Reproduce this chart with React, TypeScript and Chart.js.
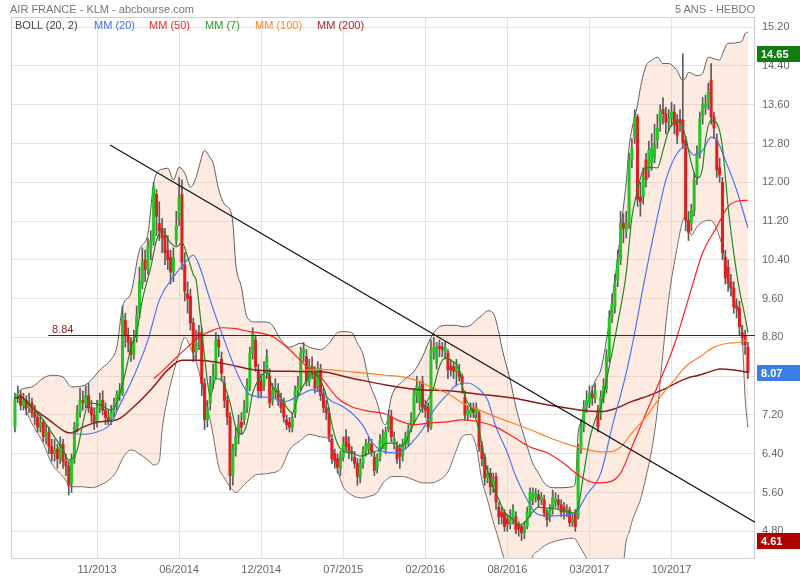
import React, { useEffect, useRef } from 'react';
import { Chart, registerables } from 'chart.js';

Chart.register(...registerables);

// ---------- weekly candles (week index 0..259) ----------
const opens = [
  6.95,7.55,7.62,7.40,7.50,7.35,7.45,7.25,7.15,6.95,
  7.05,6.75,6.85,6.55,6.40,6.50,6.30,6.60,6.25,6.15,
  5.80,6.30,6.95,7.25,7.50,7.45,7.60,7.35,7.20,7.05,
  7.35,7.50,7.30,7.15,7.10,7.25,7.40,7.62,7.65,9.15,
  8.85,8.70,8.45,8.80,9.30,9.90,10.40,10.20,10.65,10.80,
  11.75,11.15,11.05,10.90,10.60,10.45,10.15,10.80,11.25,11.75,
  10.30,9.70,9.65,9.10,8.50,8.90,8.90,7.85,7.10,7.45,
  7.85,8.00,8.75,8.35,7.86,7.50,7.16,5.95,6.48,6.75,
  7.05,7.10,7.36,7.78,8.48,8.75,8.13,7.90,7.80,8.06,
  8.00,7.50,7.70,7.70,7.50,7.45,7.10,7.05,6.95,7.24,
  7.70,7.78,8.48,8.40,7.90,8.20,8.10,7.80,8.15,7.65,
  7.35,7.24,6.70,6.40,6.30,6.10,6.33,6.75,6.60,6.45,
  6.33,6.20,5.90,6.20,6.45,6.50,6.60,6.33,6.10,6.33,
  6.60,6.50,6.90,7.16,6.60,6.55,6.50,6.35,6.60,6.62,
  6.95,7.10,7.60,7.45,7.88,7.40,7.36,6.95,8.50,8.27,
  8.62,8.60,8.50,8.48,8.20,8.20,8.10,8.10,8.00,7.57,
  7.20,7.25,7.35,7.25,7.24,6.55,6.33,5.90,6.00,5.72,
  5.93,5.30,5.20,5.18,5.05,4.95,5.04,5.10,4.95,4.90,
  4.77,4.90,5.18,5.45,5.50,5.55,5.45,5.45,5.18,5.10,
  5.25,5.40,5.45,5.35,5.30,5.20,5.24,4.98,5.18,5.10,
  6.48,6.95,7.36,7.45,7.65,7.55,7.30,7.25,7.57,7.75,
  8.40,9.22,9.43,9.98,10.40,11.16,11.00,11.16,12.46,12.93,
  13.35,11.70,11.70,12.46,12.25,12.40,12.50,12.87,13.22,13.50,
  13.42,13.24,13.32,13.45,13.28,13.30,13.28,12.87,11.22,11.16,
  11.42,12.10,12.60,13.35,13.55,13.65,14.10,13.35,12.87,12.30,
  12.00,10.45,10.25,9.94,9.82,9.45,9.41,8.90,8.85,8.60,
];
const closes = [
  7.55,7.62,7.40,7.50,7.35,7.45,7.25,7.15,6.95,7.05,
  6.75,6.85,6.55,6.40,6.50,6.30,6.60,6.25,6.15,5.75,
  6.30,6.95,7.25,7.50,7.45,7.60,7.35,7.20,7.05,7.35,
  7.50,7.30,7.15,7.10,7.25,7.40,7.62,7.70,9.25,8.85,
  8.70,8.45,8.75,9.25,9.95,10.35,10.20,10.70,10.80,11.90,
  11.30,11.00,10.85,10.55,10.40,10.15,10.45,11.10,11.70,10.35,
  9.75,9.60,9.10,8.50,8.70,8.80,7.85,7.10,7.35,7.85,
  8.00,8.75,8.60,8.06,7.50,7.16,5.95,6.50,6.75,7.00,
  6.95,7.36,7.80,8.48,8.90,8.20,7.70,7.70,8.00,8.40,
  7.45,7.70,7.75,7.50,7.35,7.16,7.00,6.95,7.15,7.70,
  7.80,8.48,8.55,7.90,8.20,8.10,7.75,8.15,7.60,7.35,
  7.25,6.75,6.30,6.25,6.13,6.35,6.60,6.55,6.45,6.40,
  6.20,5.93,6.20,6.45,6.60,6.62,6.45,6.06,6.30,6.68,
  6.75,6.85,7.16,6.75,6.70,6.30,6.35,6.60,6.75,6.90,
  7.10,7.65,7.80,7.78,7.36,7.30,6.95,8.55,8.60,8.60,
  8.57,8.55,8.60,8.13,8.13,8.10,8.20,8.00,7.83,7.20,
  7.30,7.30,7.25,7.35,6.55,6.30,5.90,6.00,5.72,5.85,
  5.40,5.10,5.10,4.90,4.95,5.10,5.24,4.83,4.85,4.77,
  4.90,5.20,5.60,5.60,5.58,5.45,5.50,5.18,5.04,5.25,
  5.50,5.45,5.35,5.20,5.20,5.25,4.98,5.05,4.90,6.48,
  6.95,7.36,7.50,7.65,7.55,7.70,6.95,7.57,7.80,8.40,
  9.20,9.50,9.92,10.40,11.16,11.05,11.15,12.46,12.70,13.35,
  11.65,11.60,12.10,12.05,12.66,12.70,12.80,13.12,13.49,13.42,
  13.24,13.32,13.45,13.18,12.97,13.25,12.81,11.22,10.97,11.42,
  12.05,12.60,13.32,13.60,13.62,13.86,13.35,13.12,12.25,12.15,
  10.55,10.03,9.92,9.82,9.43,9.40,9.02,8.80,8.65,8.07,
];
const highs = [
  7.65,7.80,7.70,7.65,7.60,7.65,7.55,7.40,7.25,7.20,
  7.10,7.00,6.95,6.70,6.70,6.60,6.75,6.70,6.40,6.25,
  6.40,7.05,7.40,7.75,7.70,7.80,7.85,7.50,7.35,7.50,
  7.65,7.70,7.45,7.30,7.40,7.55,7.70,7.85,9.45,9.30,
  9.00,8.80,8.95,9.45,10.25,10.65,10.60,10.85,11.00,12.00,
  11.85,11.60,11.25,11.05,10.90,10.60,10.65,11.40,12.10,12.05,
  10.55,9.95,9.80,9.20,8.95,9.05,9.00,7.95,7.50,8.00,
  8.25,8.90,8.85,8.50,8.00,7.60,7.25,6.60,6.95,7.20,
  7.25,7.50,7.95,8.60,9.00,8.85,8.25,8.05,8.30,8.55,
  8.15,7.85,7.95,7.85,7.65,7.55,7.20,7.15,7.25,7.80,
  8.00,8.60,8.70,8.55,8.35,8.40,8.20,8.30,8.25,7.75,
  7.50,7.35,6.80,6.50,6.40,6.45,6.75,6.90,6.75,6.55,
  6.45,6.30,6.30,6.55,6.70,6.75,6.70,6.45,6.40,6.80,
  6.90,6.95,7.30,7.30,6.85,6.65,6.60,6.70,6.85,7.00,
  7.25,7.75,8.00,7.90,8.00,7.50,7.45,8.75,8.80,8.70,
  8.75,8.70,8.70,8.55,8.35,8.30,8.35,8.25,8.05,7.70,
  7.40,7.45,7.45,7.45,7.30,6.65,6.40,6.15,6.10,6.00,
  6.00,5.40,5.30,5.25,5.15,5.25,5.35,5.20,5.00,4.95,
  5.00,5.30,5.70,5.70,5.68,5.65,5.60,5.55,5.25,5.35,
  5.65,5.60,5.55,5.45,5.40,5.35,5.30,5.15,5.25,6.60,
  7.10,7.50,7.70,7.80,7.80,7.85,7.40,7.70,7.95,8.55,
  9.35,9.70,10.10,10.60,11.40,11.35,11.40,12.60,12.90,13.50,
  13.40,12.00,12.30,12.60,12.85,13.00,13.20,13.40,13.60,13.75,
  13.55,13.50,13.65,13.60,13.40,13.50,14.65,12.95,11.40,11.55,
  12.20,12.75,13.45,13.75,13.80,14.05,14.45,13.45,13.00,12.50,
  12.10,10.60,10.40,10.10,9.95,9.60,9.55,9.05,8.95,8.70,
];
const lows = [
  6.85,7.45,7.30,7.30,7.20,7.25,7.15,7.00,6.85,6.85,
  6.65,6.60,6.40,6.25,6.25,6.10,6.20,6.10,5.95,5.55,
  5.60,6.20,6.85,7.15,7.30,7.35,7.25,7.05,6.90,6.95,
  7.25,7.20,7.00,7.00,7.00,7.15,7.30,7.50,7.60,8.60,
  8.50,8.30,8.35,8.70,9.20,9.80,9.95,10.10,10.40,10.70,
  10.90,10.80,10.55,10.30,10.20,9.90,9.95,10.70,11.10,10.20,
  9.55,9.30,8.95,8.30,8.35,8.55,7.60,6.90,6.95,7.30,
  7.75,7.95,8.40,7.90,7.35,7.00,5.65,5.75,6.35,6.60,
  6.80,7.00,7.25,7.70,8.35,8.10,7.55,7.55,7.70,7.95,
  7.35,7.40,7.55,7.40,7.25,7.05,6.90,6.85,6.85,7.15,
  7.60,7.70,8.30,7.80,7.80,7.95,7.65,7.70,7.50,7.25,
  7.10,6.65,6.20,6.10,6.00,5.95,6.25,6.45,6.30,6.25,
  6.10,5.75,5.80,6.10,6.35,6.40,6.35,5.95,6.00,6.25,
  6.50,6.40,6.85,6.65,6.50,6.20,6.10,6.25,6.50,6.55,
  6.85,7.00,7.45,7.30,7.25,7.15,6.85,6.90,8.35,8.15,
  8.40,8.40,8.35,7.95,8.00,7.95,7.80,7.90,7.65,7.10,
  7.10,7.15,7.15,7.15,6.45,6.15,5.75,5.80,5.55,5.60,
  5.25,4.95,4.95,4.80,4.80,4.85,4.95,4.75,4.70,4.61,
  4.65,4.85,5.10,5.35,5.40,5.30,5.35,5.10,4.90,5.00,
  5.15,5.30,5.25,5.10,5.05,5.10,4.90,4.90,4.80,5.05,
  6.40,6.85,7.25,7.35,7.40,7.45,6.85,7.10,7.45,7.65,
  8.30,9.10,9.30,9.85,10.30,10.75,10.85,11.05,12.30,12.80,
  11.50,11.30,11.55,11.90,12.10,12.25,12.40,12.70,13.05,13.20,
  13.00,13.05,13.15,13.00,12.80,13.05,12.70,11.00,10.80,11.00,
  11.30,11.95,12.50,13.20,13.40,13.50,13.20,12.90,12.10,12.00,
  10.40,9.90,9.75,9.65,9.30,9.20,8.85,8.65,8.45,7.95,
];

// ---------- axes ----------
const xTickWeeks = [29, 58, 87, 116, 145, 174, 203, 232];
const xTickLabels = ['11/2013', '06/2014', '12/2014', '07/2015', '02/2016', '08/2016', '03/2017', '10/2017'];
const yTickValues = [4.8, 5.6, 6.4, 7.2, 8.0, 8.8, 9.6, 10.4, 11.2, 12.0, 12.8, 13.6, 14.4, 15.2];

// ---------- Bollinger (20, 2) ----------
const bollWeeks = [
  0,2,6,10,13,17,20,24,27,30,
  34,36,38,41,44,47,49,51,52,54,
  56,58,60,62,64,65,67,69,70,72,
  74,76,77,78,80,82,85,87,90,94,
  97,101,104,108,111,114,116,119,121,123,
  125,128,130,131,133,137,141,144,147,150,
  153,156,158,161,163,165,167,169,171,172,
  175,177,181,183,185,187,190,194,197,198,
  199,200,202,205,207,209,211,213,215,216,
  217,218,220,221,223,225,227,229,231,234,
  236,237,238,239,241,243,245,247,249,250,
  252,254,255,257,258,259,
];
const bollUpper = [
  7.55,7.72,7.78,7.96,8.02,7.98,7.78,7.80,7.92,8.13,
  8.35,8.60,9.43,9.72,10.60,10.95,11.98,12.25,12.27,12.29,
  12.05,12.31,12.19,11.90,12.10,12.31,12.66,12.50,12.40,11.85,
  11.55,11.43,11.16,10.33,9.84,9.22,9.12,9.12,9.10,8.75,
  8.60,8.68,8.60,8.55,8.68,8.90,8.92,8.90,8.68,8.45,
  7.92,7.45,7.05,7.00,7.57,7.90,8.10,8.40,8.80,9.02,
  9.05,9.05,9.02,9.05,9.16,9.25,9.35,9.30,8.90,8.60,
  7.92,7.37,6.55,6.20,6.00,5.80,5.70,5.70,5.72,5.80,
  6.83,7.05,7.37,7.90,8.13,8.75,9.57,10.46,11.49,12.00,
  12.73,13.10,13.60,13.95,14.40,14.52,14.58,14.45,14.45,14.30,
  14.10,14.15,14.27,14.25,14.20,14.25,14.58,14.55,14.52,14.65,
  14.87,14.87,14.88,14.92,15.07,15.10,
];
const bollLower = [
  7.55,7.50,7.03,6.62,6.20,5.93,5.72,5.72,5.70,5.75,
  5.90,6.05,6.30,6.48,6.40,6.27,6.17,6.25,6.90,7.57,
  8.07,8.48,8.80,8.60,8.30,8.10,7.60,7.10,6.80,6.13,
  5.90,5.72,5.65,5.60,5.70,5.82,5.96,5.98,6.00,6.10,
  6.48,6.68,6.80,6.75,6.70,6.06,5.72,5.55,5.50,5.49,
  5.52,5.60,5.80,5.85,5.93,5.93,5.86,5.80,5.80,5.86,
  6.03,6.48,6.75,6.80,6.55,5.86,5.45,5.00,4.62,4.40,
  3.90,3.70,3.95,4.30,4.40,4.50,4.58,4.64,4.66,4.64,
  4.55,4.45,4.25,3.90,3.60,3.40,3.40,3.80,4.15,4.62,
  4.77,5.00,5.30,5.45,5.93,6.48,7.30,8.50,9.60,10.66,
  11.22,11.28,11.08,10.91,11.08,11.18,11.22,11.16,10.87,10.66,
  9.98,9.57,9.43,8.80,7.57,6.95,
];

// ---------- moving averages ----------
const mm7Weeks = [
  6,10,13,17,19,22,24,26,30,34,
  36,39,41,43,45,48,50,52,55,57,
  59,61,63,64,65,66,67,69,71,73,
  76,78,80,82,84,86,89,91,93,96,
  98,100,103,105,107,110,112,114,117,119,
  122,124,127,129,131,134,136,138,140,143,
  145,148,150,152,154,157,159,161,164,166,
  168,171,173,176,178,180,183,185,188,190,
  192,195,197,199,201,203,205,207,210,213,
  216,218,220,222,224,227,229,231,233,235,
  237,239,241,243,244,246,248,250,252,254,
  256,258,259,
];
const mm7Values = [
  7.36,7.10,6.83,6.48,6.27,6.48,7.03,7.45,7.41,7.30,
  7.45,8.07,8.60,8.90,9.57,10.25,10.80,11.00,10.75,10.67,
  10.75,10.47,10.10,9.98,9.50,8.95,8.40,7.60,7.95,7.92,
  7.45,6.95,6.80,7.03,7.65,7.92,8.09,7.78,7.65,7.36,
  7.24,7.57,7.92,8.06,8.00,7.60,7.00,6.60,6.43,6.42,
  6.35,6.38,6.45,6.48,6.62,6.62,6.55,6.64,6.90,7.24,
  7.41,7.78,8.20,8.38,8.33,8.13,7.57,7.37,6.90,6.27,
  5.86,5.45,5.20,5.04,4.93,4.98,5.20,5.30,5.28,5.28,
  5.25,5.20,5.18,5.30,6.00,6.68,7.10,7.37,8.20,9.10,
  10.13,11.28,11.84,12.25,12.31,12.30,12.66,13.07,13.24,13.24,
  12.93,12.40,12.09,12.31,12.87,13.28,13.22,12.73,11.49,10.54,
  9.78,9.22,8.90,
];
const mm20Weeks = [
  20,24,29,34,37,42,47,51,56,61,
  63,65,69,73,79,83,88,91,95,97,
  101,105,109,112,115,119,123,126,130,134,
  138,141,144,148,153,156,160,163,167,170,
  174,177,181,184,188,191,195,198,202,207,
  211,216,219,222,227,230,234,237,240,243,
  246,248,251,255,259,
];
const mm20Values = [
  6.83,6.80,6.85,7.03,7.40,8.00,8.75,9.57,10.05,10.40,
  10.50,10.30,9.57,8.90,8.00,7.62,7.57,7.55,7.47,7.50,
  7.62,7.72,7.62,7.48,7.40,7.24,6.98,6.65,6.45,6.42,
  6.50,6.68,6.90,7.30,7.64,7.82,7.86,7.78,7.51,6.95,
  6.42,5.93,5.45,5.18,5.12,5.12,5.14,5.18,5.55,6.00,
  6.95,8.07,8.90,9.85,11.28,12.05,12.60,12.73,12.56,12.66,
  12.93,12.87,12.46,11.84,11.06,
];
const mm50Weeks = [
  49,52,56,61,65,70,73,78,83,86,
  91,97,103,108,114,119,125,131,135,141,
  147,153,158,164,170,176,182,188,194,200,
  205,210,214,218,223,228,233,238,243,248,
  252,256,259,
];
const mm50Values = [
  7.95,8.10,8.33,8.60,8.80,8.95,9.00,8.98,8.92,8.90,
  8.82,8.55,8.20,7.98,7.55,7.37,7.28,7.22,7.10,7.00,
  7.04,7.06,7.10,7.06,6.95,6.75,6.54,6.42,6.20,5.92,
  5.80,5.82,6.00,6.54,7.24,7.92,8.65,9.60,10.54,11.08,
  11.50,11.62,11.63,
];
const mm100Weeks = [
  101,108,119,131,135,141,147,153,158,164,
  170,176,182,188,194,200,207,210,214,218,
  223,228,233,237,242,247,252,256,259,
];
const mm100Values = [
  8.12,8.14,8.09,8.02,8.00,7.93,7.78,7.64,7.45,7.30,
  7.16,7.03,6.90,6.75,6.62,6.52,6.44,6.44,6.54,6.83,
  7.16,7.57,7.92,8.20,8.40,8.60,8.68,8.70,8.76,
];
const mm200Weeks = [
  0,2,6,12,18,20,24,30,36,42,
  48,54,59,65,73,85,97,108,119,131,
  143,153,164,176,188,200,207,212,218,224,
  230,235,238,241,246,249,254,259,
];
const mm200Values = [
  7.55,7.57,7.36,7.10,6.85,6.83,6.95,7.06,7.10,7.37,
  7.72,8.13,8.33,8.33,8.27,8.13,8.10,8.09,7.96,7.82,
  7.72,7.70,7.63,7.55,7.41,7.30,7.27,7.33,7.48,7.60,
  7.75,7.90,7.97,8.01,8.10,8.15,8.13,8.08,
];

// ---------- drawn lines & marks ----------
const trendWeeks = [33.6, 261.5];
const trendValues = [12.77, 4.99];
const resistanceWeeks = [11.7, 261.5];
const resistanceLevel = 8.84;
const highMark = 14.65;
const lastClose = 8.07;
const lowMark = 4.61;

const X_MIN = -1.4;
const X_MAX = 261.5;
const Y_MIN = 4.25;
const Y_MAX = 15.41;

const FONT = "'Liberation Sans', Arial, Helvetica, sans-serif";

const pts = (ws: number[], vs: number[]) => ws.map((w, k) => ({ x: w, y: vs[k] }));

const markersPlugin = {
  id: 'markers',
  beforeDatasetsDraw(chart: any) {
    const { ctx, chartArea } = chart;
    ctx.save();
    ctx.strokeStyle = '#cfcfcf';
    ctx.lineWidth = 1;
    ctx.strokeRect(chartArea.left + 0.5, chartArea.top + 0.5, chartArea.right - chartArea.left - 1, chartArea.bottom - chartArea.top);
    ctx.restore();
  },
  afterDraw(chart: any) {
    const { ctx, scales } = chart;
    const y = scales.y;
    const x = scales.x;
    ctx.save();
    const tags: [number, string][] = [
      [highMark, '#0f7d0f'],
      [lastClose, '#3b7fe4'],
      [lowMark, '#b00000'],
    ];
    ctx.font = `bold 11px ${FONT}`;
    ctx.textBaseline = 'middle';
    ctx.textAlign = 'left';
    tags.forEach(([v, c]) => {
      const py = Math.round(y.getPixelForValue(v));
      ctx.fillStyle = c;
      ctx.fillRect(757, py - 8, 43, 16);
      ctx.fillStyle = '#ffffff';
      ctx.fillText(v.toFixed(2), 761, py + 0.5);
    });
    // resistance label
    ctx.font = `11px ${FONT}`;
    ctx.fillStyle = '#8b1c1c';
    ctx.textBaseline = 'alphabetic';
    const lx = x.getPixelForValue(resistanceWeeks[0]) + 4;
    const ly = y.getPixelForValue(resistanceLevel) - 2;
    ctx.fillText(resistanceLevel.toFixed(2), lx, ly);
    ctx.restore();
  },
};

export default function App() {
  const canvasRef = useRef<HTMLCanvasElement | null>(null);

  useEffect(() => {
    const canvas = canvasRef.current;
    if (!canvas) return;
    const idx = closes.map((_, i) => i);
    const upIdx = idx.filter((i) => closes[i] >= opens[i]);
    const downIdx = idx.filter((i) => closes[i] < opens[i]);

    const lineBase = {
      type: 'line' as const,
      pointRadius: 0,
      pointHoverRadius: 0,
      fill: false,
      cubicInterpolationMode: 'monotone' as const,
    };

    const chart = new Chart(canvas, {
      type: 'bar',
      data: {
        datasets: [
          {
            ...lineBase,
            label: 'BOLL haut',
            data: pts(bollWeeks, bollUpper),
            borderColor: '#5e5e5e',
            borderWidth: 1,
            backgroundColor: 'rgba(248, 190, 160, 0.30)',
            fill: '+1',
            order: 10,
          } as any,
          {
            ...lineBase,
            label: 'BOLL bas',
            data: pts(bollWeeks, bollLower),
            borderColor: '#5e5e5e',
            borderWidth: 1,
            order: 10,
          } as any,
          {
            type: 'bar',
            label: 'mèches',
            data: idx.map((i) => ({ x: i, y: [lows[i], highs[i]] })),
            backgroundColor: '#5c5c5c',
            barThickness: 1,
            grouped: false,
            order: 8,
          } as any,
          {
            type: 'bar',
            label: 'hausse',
            data: upIdx.map((i) => ({ x: i, y: [opens[i], closes[i]] })),
            backgroundColor: '#26c526',
            borderColor: '#1c9c1c',
            borderWidth: 0,
            barThickness: 2.4,
            minBarLength: 1,
            grouped: false,
            order: 7,
          } as any,
          {
            type: 'bar',
            label: 'baisse',
            data: downIdx.map((i) => ({ x: i, y: [opens[i], closes[i]] })),
            backgroundColor: '#e02020',
            borderWidth: 0,
            barThickness: 2.4,
            minBarLength: 1,
            grouped: false,
            order: 7,
          } as any,
          { ...lineBase, label: 'MM (200)', data: pts(mm200Weeks, mm200Values), borderColor: '#8e1b1b', borderWidth: 1.5, order: 6 } as any,
          { ...lineBase, label: 'MM (100)', data: pts(mm100Weeks, mm100Values), borderColor: '#ff7f25', borderWidth: 1.2, order: 5 } as any,
          { ...lineBase, label: 'MM (50)', data: pts(mm50Weeks, mm50Values), borderColor: '#ff2020', borderWidth: 1.2, order: 5 } as any,
          { ...lineBase, label: 'MM (20)', data: pts(mm20Weeks, mm20Values), borderColor: '#4a78f0', borderWidth: 1.2, order: 5 } as any,
          { ...lineBase, label: 'MM (7)', data: pts(mm7Weeks, mm7Values), borderColor: '#1e8a1e', borderWidth: 1.2, order: 4 } as any,
          {
            ...lineBase,
            label: 'résistance',
            data: resistanceWeeks.map((w) => ({ x: w, y: resistanceLevel })),
            borderColor: '#7a0e0e',
            borderWidth: 1.2,
            cubicInterpolationMode: 'default',
            order: 1,
          } as any,
          {
            ...lineBase,
            label: 'tendance',
            data: pts(trendWeeks, trendValues),
            borderColor: '#111111',
            borderWidth: 1.2,
            cubicInterpolationMode: 'default',
            order: 1,
          } as any,
        ],
      },
      options: {
        responsive: false,
        animation: false,
        events: [],
        layout: { padding: { left: 11, top: 17, right: 0, bottom: 0 } },
        plugins: {
          legend: { display: false },
          tooltip: { enabled: false },
          title: { display: false },
        },
        scales: {
          x: {
            type: 'linear',
            min: X_MIN,
            max: X_MAX,
            offset: false,
            grid: { color: '#e3e3e3', drawTicks: false, offset: false },
            border: { display: false },
            afterBuildTicks: (s: any) => {
              s.ticks = xTickWeeks.map((v) => ({ value: v }));
            },
            afterFit: (s: any) => {
              s.height = 22;
            },
            ticks: {
              autoSkip: false,
              maxRotation: 0,
              padding: 5,
              color: '#666',
              font: { family: FONT, size: 11 },
              callback: (v: any) => {
                const k = xTickWeeks.indexOf(Number(v));
                return k >= 0 ? xTickLabels[k] : '';
              },
            },
          },
          y: {
            type: 'linear',
            position: 'right',
            min: Y_MIN,
            max: Y_MAX,
            grid: { color: '#e3e3e3', drawTicks: false },
            border: { display: false },
            afterBuildTicks: (s: any) => {
              s.ticks = yTickValues.map((v) => ({ value: v }));
            },
            afterFit: (s: any) => {
              s.width = 45;
            },
            ticks: {
              padding: 7,
              color: '#666',
              font: { family: FONT, size: 11 },
              callback: (v: any) => Number(v).toFixed(2),
            },
          },
        },
      } as any,
      plugins: [markersPlugin],
    });
    return () => chart.destroy();
  }, []);

  const legendItems: [string, string, number][] = [
    ['BOLL (20, 2)', '#444444', 15],
    ['MM (20)', '#3f6ff5', 94],
    ['MM (50)', '#f22a2a', 149],
    ['MM (7)', '#2a962a', 205],
    ['MM (100)', '#ff8426', 255],
    ['MM (200)', '#a32a2a', 317],
  ];

  return (
    <div style={{ position: 'absolute', left: 0, top: 0, width: 800, height: 580, background: '#fff', fontFamily: FONT }}>
      <canvas ref={canvasRef} width={800} height={580} style={{ position: 'absolute', left: 0, top: 0, width: 800, height: 580 }} />
      <div style={{ position: 'absolute', left: 10, top: 3, fontSize: 11, lineHeight: '13px', color: '#777', whiteSpace: 'nowrap' }}>
        AIR FRANCE - KLM - abcbourse.com
      </div>
      <div style={{ position: 'absolute', right: 45, top: 3, fontSize: 11, lineHeight: '13px', color: '#777', whiteSpace: 'nowrap' }}>
        5 ANS - HEBDO
      </div>
      {legendItems.map(([t, c, x]) => (
        <div key={t} style={{ position: 'absolute', left: x, top: 19, fontSize: 11, lineHeight: '13px', color: c, whiteSpace: 'nowrap' }}>
          {t}
        </div>
      ))}
    </div>
  );
}
